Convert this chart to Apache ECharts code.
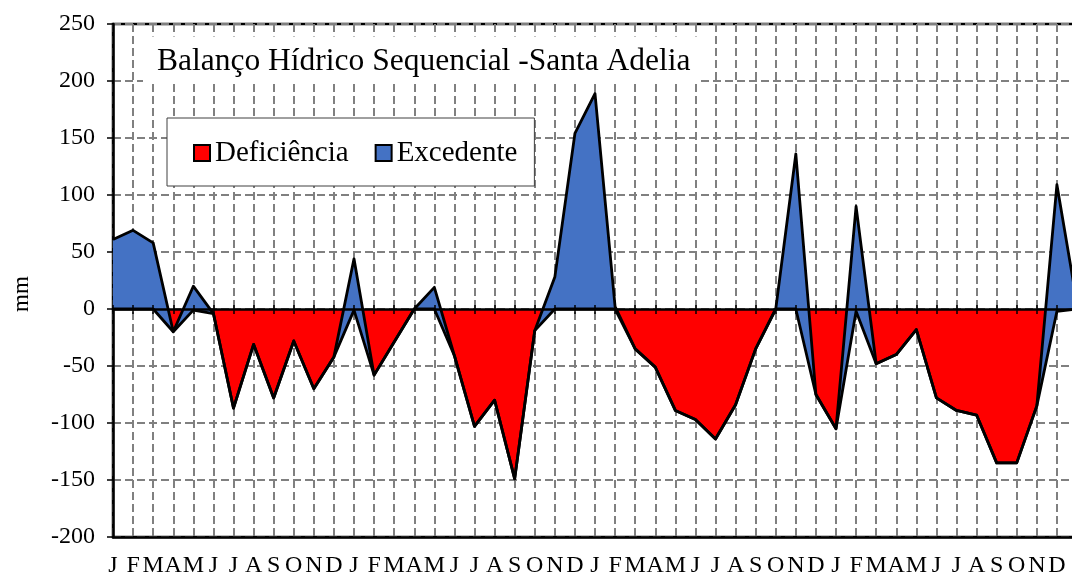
<!DOCTYPE html>
<html>
<head>
<meta charset="utf-8">
<script src="https://cdn.jsdelivr.net/npm/echarts@6/dist/echarts.min.js"></script>
<style>
html,body{margin:0;padding:0;background:#fff;}
#chart{width:1072px;height:574px;}
</style>
</head>
<body>
<div id="chart"></div>
<script>
// Month labels (4 years + first month of the next one, which falls just outside the visible area)
const yearMonths = ['J','F','M','A','M','J','J','A','S','O','N','D'];
const months = [].concat(yearMonths, yearMonths, yearMonths, yearMonths, ['J']);

// Deficiência (mm, negative) – first stacked series
const deficiencia = [
  0, 0, 0, -20, -1, -4, -87, -31, -78, -28, -70, -42,
  -1, -58, -29, 0, 0, -41, -103, -80, -149, -19, 0, 0,
  0, 0, -35, -51, -89, -97, -114, -84, -35, 0, 0, -75,
  -105, -2, -48, -40, -18, -78, -89, -93, -135, -135, -85, -2,
  0
];
// Excedente (mm, positive) – stacked on top of Deficiência
const excedente = [
  61, 69, 58, 0, 21, 0, 0, 0, 0, 0, 0, 0,
  45, 0, 0, 0, 19, 0, 0, 0, 0, 0, 28, 154,
  189, 2, 0, 0, 0, 0, 0, 0, 0, 0, 136, 0,
  0, 92, 0, 0, 0, 0, 0, 0, 0, 0, 0, 111,
  5
];
// Value axis ticks
const yMin = -200, yMax = 250, yStep = 50;

const FONT = 'Liberation Serif';
const gridLine = {color: '#808080', width: 2, type: [8, 4]};

const chart = echarts.init(document.getElementById('chart'), null, {renderer: 'canvas'});
const option = {
  animation: false,
  backgroundColor: '#ffffff',
  textStyle: {fontFamily: FONT},
  title: {
    text: 'Balanço Hídrico Sequencial -Santa Adelia',
    left: 143, top: 37,
    backgroundColor: '#ffffff',
    padding: [9, 8, 5, 14],
    z: 10,
    textStyle: {fontFamily: FONT, fontSize: 31.5, fontWeight: 'normal', color: '#000', lineHeight: 31}
  },
  legend: {
    left: 167, top: 118,
    padding: [20, 17, 18, 26],
    backgroundColor: '#ffffff', borderColor: '#404040', borderWidth: 1,
    icon: 'rect', itemWidth: 16, itemHeight: 16, itemGap: 26,
    z: 10,
    textStyle: {fontFamily: FONT, fontSize: 29, color: '#000', lineHeight: 30},
    data: [
      {name: 'Deficiência', itemStyle: {color: '#FF0000', borderColor: '#000', borderWidth: 2}},
      {name: 'Excedente', itemStyle: {color: '#4472C4', borderColor: '#000', borderWidth: 2}}
    ]
  },
  grid: {
    left: 113, right: -5, top: 24, bottom: 37,
    outerBoundsMode: 'none', containLabel: false,
    show: true, borderColor: '#000', borderWidth: 2.5, backgroundColor: 'rgba(0,0,0,0)'
  },
  xAxis: [
    {
      type: 'category', data: months, boundaryGap: false,
      axisLine: {onZero: false, lineStyle: {color: '#000', width: 2.5}},
      axisTick: {show: false},
      axisLabel: {interval: 0, fontFamily: FONT, fontSize: 24, lineHeight: 24, color: '#000', margin: 17},
      splitLine: {show: true, interval: 0, lineStyle: gridLine}
    },
    {
      type: 'category', data: months, boundaryGap: false, position: 'bottom', z: 5,
      axisLine: {onZero: true, onZeroAxisIndex: 0, lineStyle: {color: '#000', width: 2.5}},
      axisTick: {show: true, interval: 0, length: 5, inside: false, lineStyle: {color: '#000', width: 1.5}},
      axisLabel: {show: false},
      splitLine: {show: false}
    },
    {
      type: 'category', data: months, boundaryGap: false, position: 'bottom', z: 5,
      axisLine: {show: false, onZero: true, onZeroAxisIndex: 0},
      axisTick: {show: true, interval: 0, length: 4, inside: true, lineStyle: {color: '#000', width: 1.5}},
      axisLabel: {show: false},
      splitLine: {show: false}
    }
  ],
  yAxis: {
    type: 'value', min: yMin, max: yMax, interval: yStep,
    name: 'mm', nameLocation: 'middle', nameGap: 80,
    nameTextStyle: {fontFamily: FONT, fontSize: 23, color: '#000', padding: [0, 27, 0, 0]},
    axisLine: {show: true, lineStyle: {color: '#000', width: 2.5}},
    axisTick: {show: true, length: 6, lineStyle: {color: '#000', width: 1.5}},
    axisLabel: {fontFamily: FONT, fontSize: 24, color: '#000', margin: 18},
    splitLine: {show: true, lineStyle: gridLine}
  },
  series: [
    {
      name: 'Deficiência', type: 'line', data: deficiencia,
      stack: 'balanco', stackStrategy: 'all',
      symbol: 'none', showSymbol: false,
      lineStyle: {color: '#000', width: 2.8, join: 'round'},
      itemStyle: {color: '#FF0000'},
      areaStyle: {color: '#FF0000', opacity: 1}
    },
    {
      name: 'Excedente', type: 'line', data: excedente,
      stack: 'balanco', stackStrategy: 'all',
      symbol: 'none', showSymbol: false,
      lineStyle: {color: '#000', width: 2.8, join: 'round'},
      itemStyle: {color: '#4472C4'},
      areaStyle: {color: '#4472C4', opacity: 1}
    }
  ]
};
chart.setOption(option);
</script>
</body>
</html>
